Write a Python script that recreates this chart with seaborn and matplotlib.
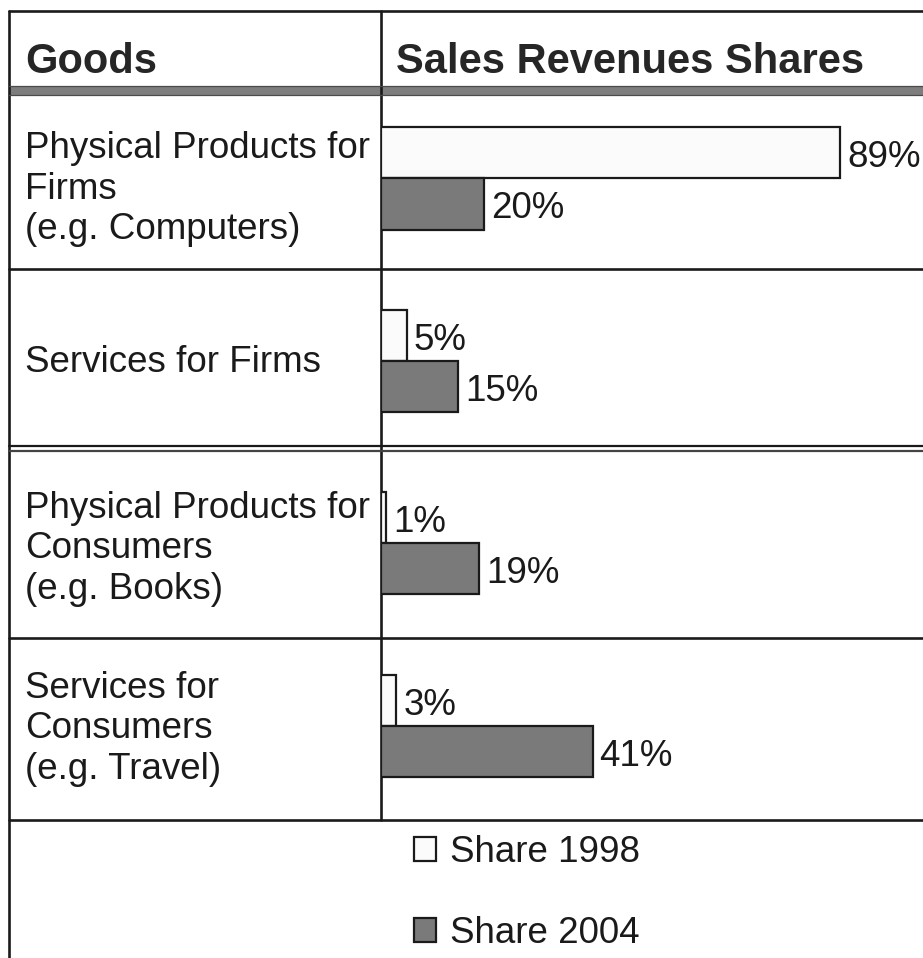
import matplotlib
matplotlib.use("Agg")
import matplotlib.pyplot as plt
import seaborn as sns
import pandas as pd

# ---- data ----
goods = [
    "Physical Products for\nFirms\n(e.g. Computers)",
    "Services for Firms",
    "Physical Products for\nConsumers\n(e.g. Books)",
    "Services for\nConsumers\n(e.g. Travel)",
]
years = ["Share 1998", "Share 2004"]
share_1998 = [89, 5, 1, 3]
share_2004 = [20, 15, 19, 41]
header_left = "Goods"
header_right = "Sales Revenues Shares"

sns.set_theme(style="white")
plt.rcParams["font.family"] = ["Liberation Sans", "DejaVu Sans"]

W, H = 923, 958
fig = plt.figure(figsize=(W / 100, H / 100), dpi=100)
fig.patch.set_facecolor("white")

# background axes in pixel coordinates for the table grid
bg = fig.add_axes([0, 0, 1, 1], zorder=0)
bg.set_xlim(0, W)
bg.set_ylim(H, 0)
bg.axis("off")

lc = "#1a1a1a"
lw = 1.9
x_left, x_div = 9, 381
bg.plot([x_left, x_left], [11, H], color=lc, lw=lw)
bg.plot([x_left, W], [11, 11], color=lc, lw=lw)
bg.plot([x_div, x_div], [11, 820], color=lc, lw=lw)
# header band
bg.fill_between([x_left, W], 86, 95, color="#7d7d7d", lw=0)
bg.plot([x_left, W], [86, 86], color="#4a4a4a", lw=0.9)
bg.plot([x_left, W], [95, 95], color="#4a4a4a", lw=0.9)
# row lines
bg.plot([x_left, W], [269, 269], color=lc, lw=lw)
bg.plot([x_left, W], [446, 446], color=lc, lw=1.6)
bg.plot([x_left, W], [451, 451], color="#444444", lw=1.6)
bg.plot([x_left, W], [638, 638], color=lc, lw=lw)
bg.plot([x_left, W], [820, 820], color=lc, lw=lw)

# header texts
bg.text(25, 73, header_left, fontsize=30, fontweight="bold",
        va="baseline", ha="left", color="#262626")
bg.text(396, 73, header_right, fontsize=30, fontweight="bold",
        va="baseline", ha="left", color="#262626")

# row label texts
row_centers = [189, 362, 549, 729]
for label, yc in zip(goods, row_centers):
    bg.text(25, yc, label, fontsize=26.5, va="center", ha="left", color="#1a1a1a", linespacing=1.2)

# bar axes
df = pd.DataFrame({
    "Goods": goods * 2,
    "Share": share_1998 + share_2004,
    "Year": [years[0]] * len(goods) + [years[1]] * len(goods),
})
top_px, bot_px = 87.25, 817.0
ax = fig.add_axes([x_div / W, 1 - bot_px / H, 1 - x_div / W, (bot_px - top_px) / H], zorder=1)
ax.patch.set_alpha(0)
sns.barplot(data=df, y="Goods", x="Share", hue="Year", orient="h",
            palette={years[0]: "#fbfbfb", years[1]: "#7a7a7a"},
            width=0.56, edgecolor="#1a1a1a", linewidth=1.6, ax=ax)
ax.set_xlim(0, (W - x_div) / 5.16)
ax.set_ylim(3.5, -0.5)
for cont in ax.containers:
    anns = ax.bar_label(cont, labels=[f"{int(v)}%" for v in cont.datavalues],
                        padding=5, fontsize=26.5, color="#1a1a1a")
    for a in anns:
        a.xyann = (5, -3.5)
ax.set_xlabel("")
ax.set_ylabel("")
ax.set_xticks([])
ax.set_yticks([])
for s in ax.spines.values():
    s.set_visible(False)

sns.move_legend(ax, loc="center", bbox_to_anchor=(527 / W, 1 - 893 / H),
                bbox_transform=fig.transFigure, frameon=False, title=None,
                fontsize=26.5, handlelength=0.6, handleheight=0.6,
                handletextpad=0.4, labelspacing=1.25)
leg = ax.get_legend()
for t in leg.get_texts():
    t.set_color("#1a1a1a")

fig.savefig("out.png", dpi=100, facecolor="white")
